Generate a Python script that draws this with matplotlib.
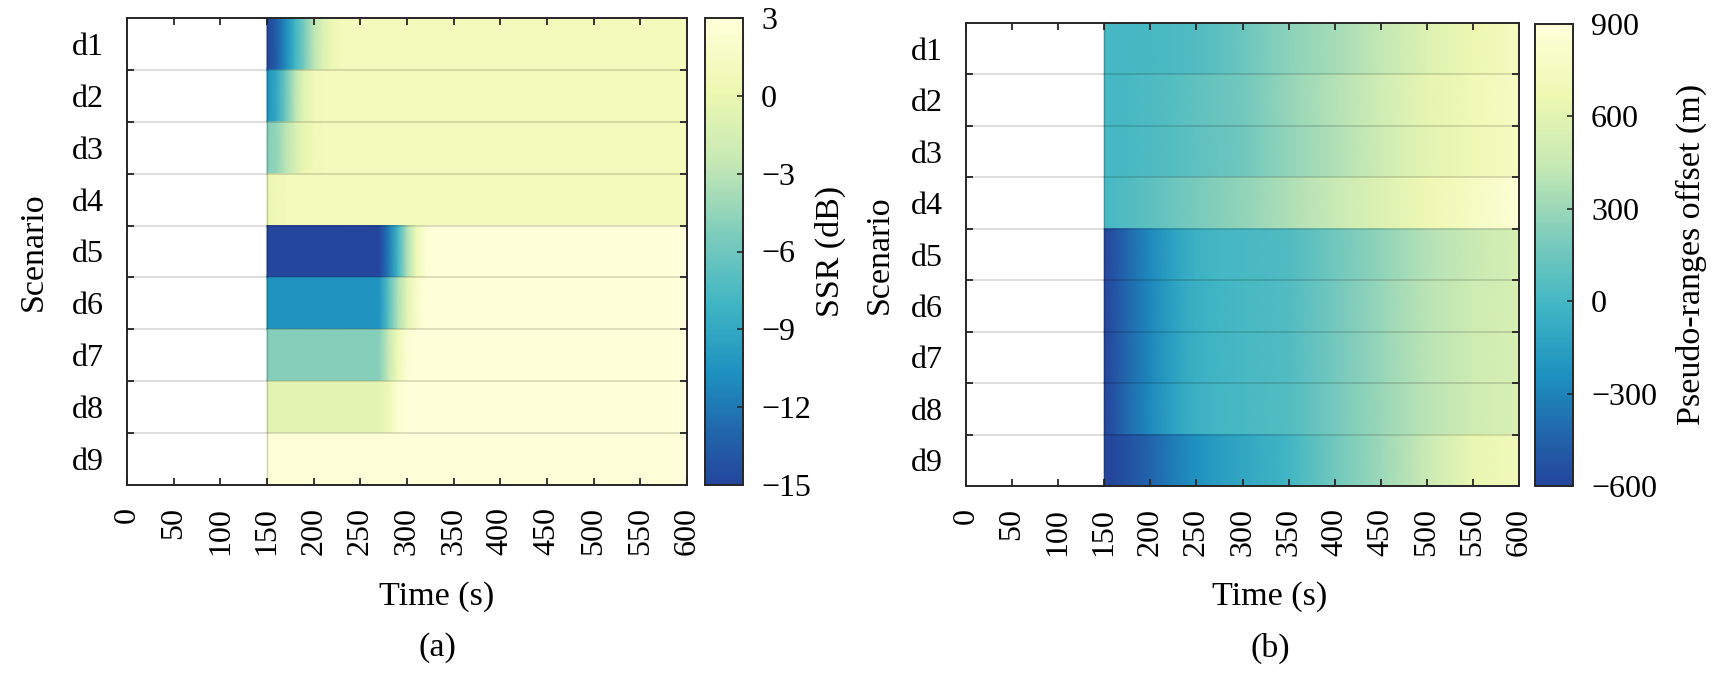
import numpy as np
import matplotlib
matplotlib.use('Agg')
import matplotlib.pyplot as plt
from matplotlib.colors import ListedColormap

plt.rcParams['font.family'] = ['Liberation Serif', 'DejaVu Serif']
plt.rcParams['mathtext.fontset'] = 'stix'

# ---------------- data ----------------
scenarios = ['d1', 'd2', 'd3', 'd4', 'd5', 'd6', 'd7', 'd8', 'd9']
time_ticks = [0, 50, 100, 150, 200, 250, 300, 350, 400, 450, 500, 550, 600]

# (a) SSR (dB)
ssr_time = [150, 160, 170, 180, 190, 200, 210, 220, 230, 260, 270, 280, 290, 300, 310, 320, 330, 600]
ssr_d1 = [-15, -13.5, -11, -8, -5.5, -3, -1, 0.3, 1, 1, 1, 1, 1, 1, 1, 1, 1, 1]
ssr_d2 = [-10.5, -9, -6, -3, -0.5, 0.8, 1, 1, 1, 1, 1, 1, 1, 1, 1, 1, 1, 1]
ssr_d3 = [-5, -4.5, -3, -1.5, 0, 0.7, 1, 1, 1, 1, 1, 1, 1, 1, 1, 1, 1, 1]
ssr_d4 = [0, 0.5, 1, 1, 1, 1, 1, 1, 1, 1, 1, 1, 1, 1, 1, 1, 1, 1]
ssr_d5 = [-15, -15, -15, -15, -15, -15, -15, -15, -15, -15, -15, -12, -8, -3.5, 0.5, 2.5, 3, 3]
ssr_d6 = [-10.5, -10.5, -10.5, -10.5, -10.5, -10.5, -10.5, -10.5, -10.5, -10.5, -10.5, -7, -3.5, -0.5, 1.8, 3, 3, 3]
ssr_d7 = [-5, -5, -5, -5, -5, -5, -5, -5, -5, -5, -5, -2.5, 0.5, 2.5, 3, 3, 3, 3]
ssr_d8 = [-0.5, -0.5, -0.5, -0.5, -0.5, -0.5, -0.5, -0.5, -0.5, -0.5, -0.5, 0.5, 2.5, 3, 3, 3, 3, 3]
ssr_d9 = [2.8, 2.8, 2.8, 2.8, 2.8, 2.8, 2.8, 2.8, 2.8, 2.8, 2.8, 2.8, 2.8, 2.8, 2.8, 2.8, 2.8, 2.8]
ssr_ticks = [-15, -12, -9, -6, -3, 0, 3]

# (b) Pseudo-ranges offset (m)
pr_time = [150, 160, 175, 200, 225, 250, 275, 300, 350, 400, 450, 500, 550, 600]
pr_d1 = [0, 5, 10, 15, 25, 50, 90, 140, 250, 330, 430, 570, 660, 750]
pr_d2 = [0, 5, 15, 30, 60, 100, 130, 160, 280, 380, 490, 620, 700, 780]
pr_d3 = [0, 5, 15, 30, 60, 95, 125, 155, 275, 370, 480, 610, 690, 770]
pr_d4 = [10, 20, 50, 90, 140, 190, 230, 270, 360, 450, 570, 680, 760, 880]
pr_d5 = [-600, -530, -420, -270, -130, -40, 0, 10, 40, 160, 270, 380, 460, 530]
pr_d6 = [-600, -530, -420, -280, -140, -50, -10, 10, 50, 170, 290, 400, 480, 540]
pr_d7 = [-600, -530, -420, -280, -140, -50, -10, 10, 50, 170, 290, 400, 480, 540]
pr_d8 = [-600, -525, -410, -270, -130, -45, -5, 15, 55, 175, 295, 405, 485, 545]
pr_d9 = [-600, -585, -540, -440, -330, -230, -160, -110, -10, 160, 300, 460, 645, 720]
pr_ticks = [-600, -300, 0, 300, 600, 900]

ssr_rows = [ssr_d1, ssr_d2, ssr_d3, ssr_d4, ssr_d5, ssr_d6, ssr_d7, ssr_d8, ssr_d9]
pr_rows = [pr_d1, pr_d2, pr_d3, pr_d4, pr_d5, pr_d6, pr_d7, pr_d8, pr_d9]

# ---------------- style ----------------
cmap = ListedColormap(plt.get_cmap('YlGnBu')(np.linspace(0.82, 0.0, 256)))
W, H = 1732, 673
fig = plt.figure(figsize=(W / 100, H / 100), dpi=100)
SPINE = '#262626'
TICK_FS = 23
LABEL_FS = 24.5


def px(x0, y0, x1, y1):
    return [x0 / W, 1 - y1 / H, (x1 - x0) / W, (y1 - y0) / H]


def panel(ax_rect, cax_rect, times, rows, vmin, vmax, cticks, clabel, clabel_x,
          xlabel_x, tag, ylab_x):
    ax = fig.add_axes(px(*ax_rect))
    cax = fig.add_axes(px(*cax_rect))
    mesh = None
    for i, row in enumerate(rows):
        C = np.vstack([row, row])
        mesh = ax.pcolormesh(times, [i, i + 1], C, shading='gouraud',
                             cmap=cmap, vmin=vmin, vmax=vmax)
    ax.set_xlim(0, 600)
    ax.set_ylim(len(rows), 0)
    for b in range(1, len(rows)):
        ax.axhline(b, color='k', alpha=0.14, lw=1.3, zorder=3)
    ax.axvline(150, color='k', alpha=0.18, lw=1.0, zorder=3)

    ax.set_xticks(time_ticks)
    ax.set_xticklabels([str(t) for t in time_ticks], rotation=90)
    ax.set_yticks(list(range(1, len(rows))))
    ax.set_yticklabels([])
    ax.set_yticks([i + 0.5 for i in range(len(rows))], minor=True)
    ax.set_yticklabels(scenarios, minor=True)
    ax.tick_params(axis='both', which='major', direction='in', top=True, right=True,
                   length=5, width=1.3, color=SPINE, labelsize=TICK_FS, pad=16)
    ax.tick_params(axis='y', which='minor', length=0, labelsize=TICK_FS, pad=17)
    ax.tick_params(axis='x', which='minor', length=0)
    for s in ax.spines.values():
        s.set_color(SPINE)
        s.set_linewidth(1.4)

    cb = fig.colorbar(mesh, cax=cax)
    cb.set_ticks(cticks)
    cax.tick_params(direction='in', length=4, width=1.2, color=SPINE,
                    labelsize=TICK_FS, pad=13)
    cb.outline.set_edgecolor(SPINE)
    cb.outline.set_linewidth(1.4)

    ycen = 1 - ((ax_rect[1] + ax_rect[3]) / 2) / H
    fig.text(ylab_x / W, ycen, 'Scenario', rotation=90, ha='center', va='center',
             fontsize=LABEL_FS)
    fig.text(clabel_x / W, ycen, clabel, rotation=90, ha='center', va='center',
             fontsize=LABEL_FS)
    fig.text(xlabel_x / W, 1 - 597 / H, 'Time (s)', ha='center', va='center',
             fontsize=LABEL_FS)
    fig.text(xlabel_x / W, 1 - 648 / H, tag, ha='center', va='center',
             fontsize=LABEL_FS)
    return ax


panel((127, 18, 687, 485), (705, 18, 743, 485), ssr_time, ssr_rows, -15, 3,
      ssr_ticks, 'SSR (dB)', 830, 437, '(a)', 33)
panel((966, 23, 1519, 486), (1535, 24, 1573, 486), pr_time, pr_rows, -600, 900,
      pr_ticks, 'Pseudo-ranges offset (m)', 1691, 1270, '(b)', 879)

fig.savefig('out.png', dpi=100, facecolor='white')
